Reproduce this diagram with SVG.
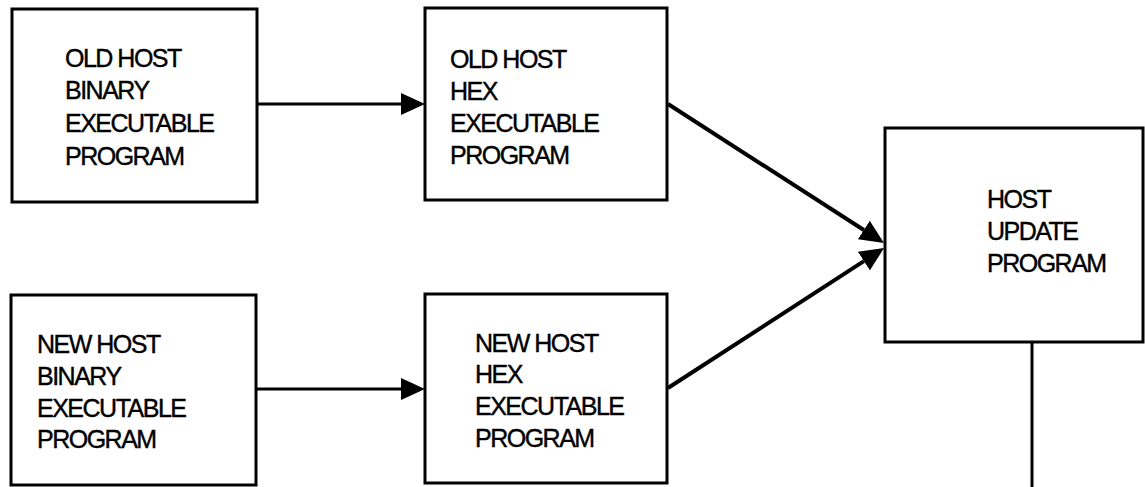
<svg xmlns="http://www.w3.org/2000/svg" width="1145" height="487" viewBox="0 0 1145 487">
  <style>
    .box { fill: #ffffff; stroke: #000000; stroke-width: 3; }
    .lbl { font-family: "Liberation Sans", Arial, sans-serif; font-size: 25px; letter-spacing: -1.5px; fill: #000000; stroke: #000000; stroke-width: 0.4; }
    .wire { fill: none; stroke: #000000; stroke-width: 3; }
    .wire.thick { stroke-width: 4; }
  </style>
  <defs>
    <marker id="head" viewBox="0 0 24 22" refX="0" refY="11" markerWidth="24" markerHeight="22" markerUnits="userSpaceOnUse" orient="auto">
      <path d="M0,0 L24,11 L0,22 Z" fill="#000000"/>
    </marker>
  </defs>
  <rect width="1145" height="487" fill="#ffffff"/>

  <g id="connectors">
    <path class="wire" d="M257,104 L401,104" marker-end="url(#head)"/>
    <path class="wire" d="M257,389 L401,389" marker-end="url(#head)"/>
    <path class="wire thick" d="M668,104 L863.8,230" marker-end="url(#head)"/>
    <path class="wire thick" d="M668,388 L863.9,261.1" marker-end="url(#head)"/>
    <path class="wire" d="M1032,342 L1032,490"/>
  </g>

  <g id="old-binary">
    <rect class="box" x="12" y="9" width="245" height="193"/>
    <text class="lbl" x="65" y="67">OLD HOST</text>
    <text class="lbl" x="65" y="99">BINARY</text>
    <text class="lbl" x="65" y="132">EXECUTABLE</text>
    <text class="lbl" x="65" y="165">PROGRAM</text>
  </g>

  <g id="old-hex">
    <rect class="box" x="425" y="8" width="242" height="192"/>
    <text class="lbl" x="450" y="68">OLD HOST</text>
    <text class="lbl" x="450" y="100">HEX</text>
    <text class="lbl" x="450" y="132">EXECUTABLE</text>
    <text class="lbl" x="450" y="164">PROGRAM</text>
  </g>

  <g id="new-binary">
    <rect class="box" x="11" y="295" width="245" height="190"/>
    <text class="lbl" x="37" y="353">NEW HOST</text>
    <text class="lbl" x="37" y="385">BINARY</text>
    <text class="lbl" x="37" y="417">EXECUTABLE</text>
    <text class="lbl" x="37" y="448">PROGRAM</text>
  </g>

  <g id="new-hex">
    <rect class="box" x="425" y="294" width="242" height="189"/>
    <text class="lbl" x="475" y="352">NEW HOST</text>
    <text class="lbl" x="475" y="383">HEX</text>
    <text class="lbl" x="475" y="415">EXECUTABLE</text>
    <text class="lbl" x="475" y="447">PROGRAM</text>
  </g>

  <g id="host-update">
    <rect class="box" x="885" y="128" width="258" height="214"/>
    <text class="lbl" x="987" y="208">HOST</text>
    <text class="lbl" x="987" y="240">UPDATE</text>
    <text class="lbl" x="987" y="272">PROGRAM</text>
  </g>
</svg>
